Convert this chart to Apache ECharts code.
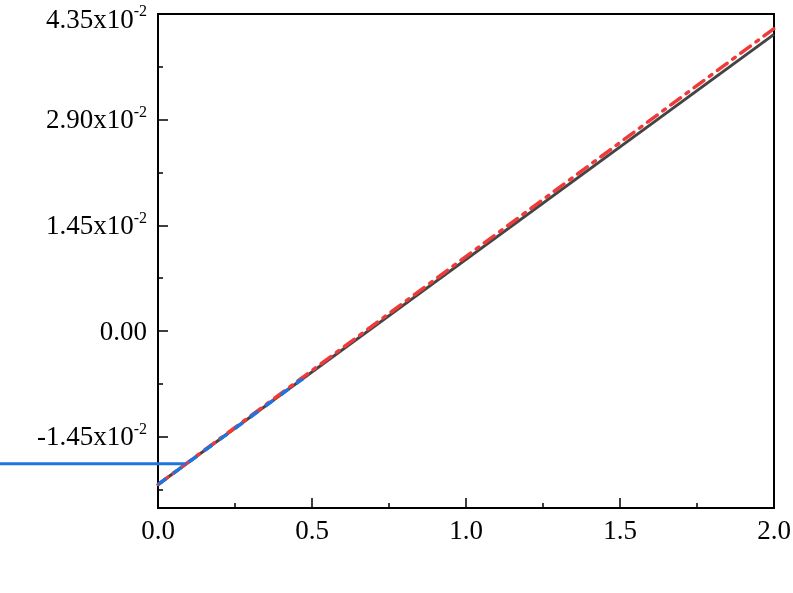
<!DOCTYPE html>
<html>
<head>
<meta charset="utf-8">
<title>Line chart</title>
<script src="https://cdn.jsdelivr.net/npm/echarts@6/dist/echarts.min.js"></script>
<style>
  html, body { margin: 0; padding: 0; background: #fff; }
  #chart { width: 793px; height: 593px; }
</style>
</head>
<body>
<div id="chart"></div>
<script>
// Data
var lineX = [0, 2];
var blackY = [-0.02108, 0.0407];
var redY = [-0.02108, 0.0415];
var blueDashX = [0, 0.47];
var blueDashY = [-0.02108, -0.00656];
var blueStepX = [-0.6, 0.093];
var blueStepY = [-0.01824, -0.01824];

var yTickValues = [-0.0145, 0, 0.0145, 0.029, 0.0435];
var yMinorValues = [-0.02175, -0.00725, 0.00725, 0.02175, 0.03625];
var yMin = -0.0243;
var yMax = 0.0435;

function pairs(xs, ys) {
  return xs.map(function (x, i) { return [x, ys[i]]; });
}

(function () {
  'use strict';

  var chart = echarts.init(document.getElementById('chart'));
  var font = 'Liberation Serif';

  // y labels like 4.35x10^-2 ; top label sits a bit lower, as in the figure
  function yLabel(v) {
    if (Math.abs(v) < 1e-12) return '{m|0.00}';
    var txt = '{m|' + (v / 0.01).toFixed(2) + 'x10}{s|-2}';
    if (Math.abs(v - yMax) < 1e-9) txt = '{gap| }\n' + txt;
    return txt;
  }

  var option = {
    animation: false,
    grid: [
      {
        left: 158, right: 19, top: 14, bottom: 85,
        outerBoundsMode: 'none',
        show: true,
        borderColor: '#000',
        borderWidth: 2,
        backgroundColor: 'transparent'
      },
      // same scale, stretched to the left edge, for the flat blue line
      { left: 0, right: 19, top: 14, bottom: 85, outerBoundsMode: 'none', show: false }
    ],
    xAxis: [
      {
        type: 'value',
        gridIndex: 0,
        min: 0, max: 2, interval: 0.5,
        axisLine: { onZero: false, lineStyle: { color: '#000', width: 2 } },
        axisTick: { inside: true, length: 10, lineStyle: { color: '#000', width: 1.5 } },
        minorTick: { show: true, splitNumber: 2, length: 5, lineStyle: { color: '#000', width: 1.5 } },
        splitLine: { show: false },
        axisLabel: {
          margin: 10,
          color: '#000',
          fontFamily: font,
          fontSize: 27,
          formatter: function (v) { return v.toFixed(1); }
        }
      },
      {
        type: 'value',
        gridIndex: 1,
        min: -0.513, max: 2,
        show: false
      }
    ],
    yAxis: [
      {
        type: 'value',
        gridIndex: 0,
        min: yMin, max: yMax,
        axisLine: { show: true, onZero: false, lineStyle: { color: '#000', width: 2 } },
        axisTick: { inside: true, length: 10, customValues: yTickValues, lineStyle: { color: '#000', width: 1.5 } },
        splitLine: { show: false },
        axisLabel: {
          margin: 11,
          customValues: yTickValues,
          formatter: yLabel,
          rich: {
            gap: { fontSize: 10, lineHeight: 10 },
            m: { fontFamily: font, fontSize: 27, color: '#000', lineHeight: 30, verticalAlign: 'bottom' },
            s: { fontFamily: font, fontSize: 16, color: '#000', lineHeight: 24, verticalAlign: 'top' }
          }
        }
      },
      {
        // minor ticks only
        type: 'value',
        gridIndex: 0,
        min: yMin, max: yMax,
        position: 'left',
        axisLine: { show: false },
        axisTick: { inside: true, length: 5, customValues: yMinorValues, lineStyle: { color: '#000', width: 1.5 } },
        axisLabel: { show: false },
        splitLine: { show: false }
      },
      {
        type: 'value',
        gridIndex: 1,
        min: yMin, max: yMax,
        show: false
      }
    ],
    series: [
      {
        type: 'line',
        data: pairs(lineX, blackY),
        symbol: 'none',
        lineStyle: { color: '#444444', width: 3 }
      },
      {
        type: 'line',
        data: pairs(lineX, redY),
        symbol: 'none',
        lineStyle: { color: '#f03a3a', width: 3.5, type: [12, 7, 3, 7], cap: 'round' }
      },
      {
        type: 'line',
        data: pairs(blueDashX, blueDashY),
        symbol: 'none',
        lineStyle: { color: '#1f74e0', width: 3.5, type: [10, 9] }
      },
      {
        type: 'line',
        xAxisIndex: 1,
        yAxisIndex: 2,
        data: pairs(blueStepX, blueStepY),
        symbol: 'none',
        lineStyle: { color: '#1f74e0', width: 3 }
      }
    ]
  };

  chart.setOption(option);
})();
</script>
</body>
</html>
